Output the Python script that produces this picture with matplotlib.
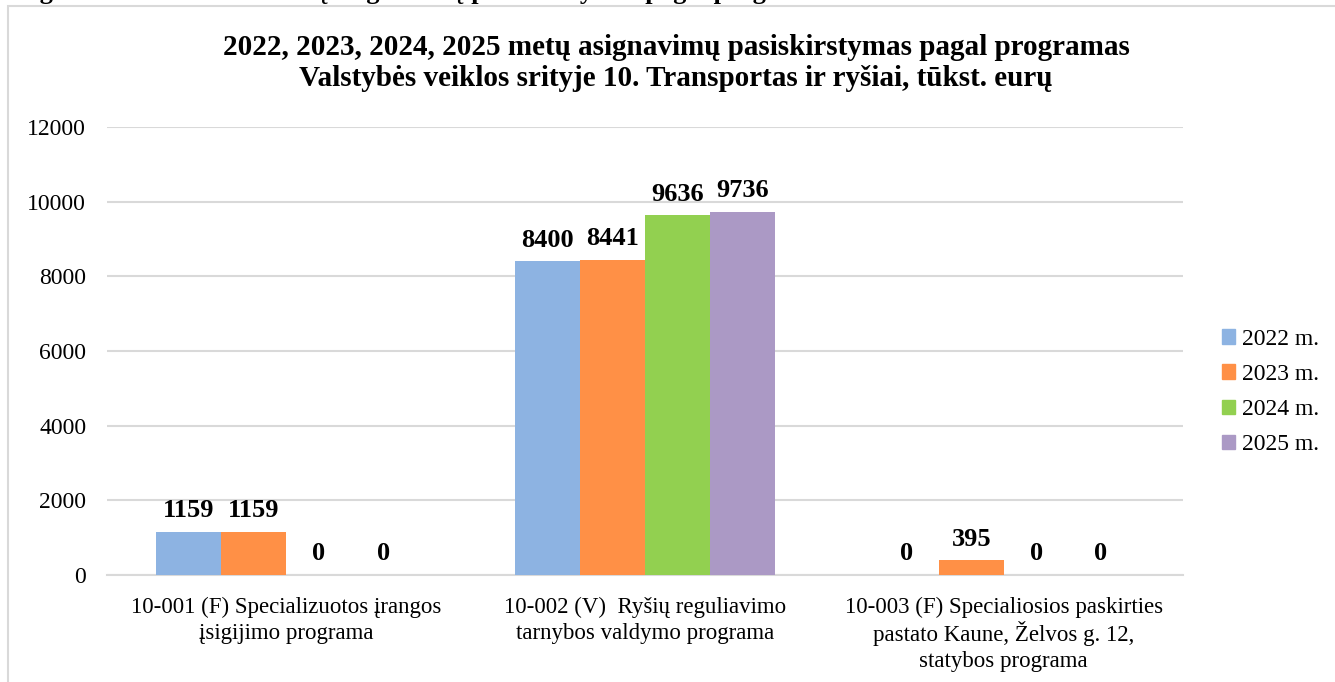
import numpy as np
import matplotlib
matplotlib.use('Agg')
import matplotlib.pyplot as plt
from matplotlib.patches import Rectangle, Patch

# Times-like font for the whole chart
plt.rcParams['font.family'] = ['Liberation Serif', 'DejaVu Serif']

# Data
programs = ['10-001 (F) Specializuotos įrangos\nįsigijimo programa',
            '10-002 (V)  Ryšių reguliavimo\ntarnybos valdymo programa',
            '10-003 (F) Specialiosios paskirties\npastato Kaune, Želvos g. 12,\nstatybos programa']
years = ['2022 m.', '2023 m.', '2024 m.', '2025 m.']
v2022 = [1159, 8400, 0]
v2023 = [1159, 8441, 395]
v2024 = [0, 9636, 0]
v2025 = [0, 9736, 0]
colors = ['#8DB3E2', '#FF9046', '#92D050', '#AB99C5']

title = ('2022, 2023, 2024, 2025 metų asignavimų pasiskirstymas pagal programas\n'
         'Valstybės veiklos srityje 10. Transportas ir ryšiai, tūkst. eurų')

W, H = 1335, 682
fig = plt.figure(figsize=(W / 100, H / 100), dpi=100)

# caption above the chart frame, cut off in the source image
fig.text(0.0, 1 + 1 / H, 'Diagrama 5. 2022–2025 metų asignavimų pasiskirstymas pagal programas',
         fontsize=19, fontweight='bold', va='baseline', ha='left')

# chart frame
fig.patches.append(Rectangle((8 / W, -0.1), 1.2, 1 - 6 / H + 0.1, transform=fig.transFigure,
                             fill=False, edgecolor='#D9D9D9', linewidth=1.5))

ax = fig.add_axes([107 / W, 1 - 575 / H, (1183 - 107) / W, (575 - 127) / H])

x = np.arange(len(programs))
w = 0.181
series = [v2022, v2023, v2024, v2025]
for i, (vals, col, lab) in enumerate(zip(series, colors, years)):
    bars = ax.bar(x + (i - 1.5) * w, vals, w, color=col, label=lab, zorder=3)
    for b, v in zip(bars, vals):
        ax.annotate(str(v), (b.get_x() + b.get_width() / 2, v), xytext=(0, 7),
                    textcoords='offset points', ha='center', va='bottom',
                    fontsize=19, fontweight='bold')

ax.set_xlim(-0.5, 2.5)
ax.set_ylim(0, 12000)
ax.set_yticks(range(0, 12001, 2000))
ax.set_xticks(x)
ax.set_xticklabels([])
# category labels, one line at a time so the line gaps stay even
for xi, lab in zip(x, programs):
    for j, line in enumerate(lab.split('\n')):
        ax.annotate(line, (xi, 0), xycoords=('data', 'axes fraction'),
                    xytext=(0, -32 - 27 * j), textcoords='offset pixels',
                    ha='center', va='center', fontsize=16.5, annotation_clip=False)
ax.tick_params(axis='y', length=0, pad=15, labelsize=17)
ax.tick_params(axis='x', length=0)
ax.grid(axis='y', color='#D9D9D9', linewidth=1.5, zorder=0)
for s in ['top', 'right', 'left']:
    ax.spines[s].set_visible(False)
ax.spines['bottom'].set_color('#D9D9D9')
ax.spines['bottom'].set_linewidth(1.5)

fig.text(676 / W, 1 - 63 / H, title, ha='center', va='center', fontsize=21,
         fontweight='bold', linespacing=1.15)

handles = [Patch(color=c) for c in colors]
fig.legend(handles, years, loc='center left', bbox_to_anchor=(1201 / W, 1 - 392 / H),
           frameon=False, fontsize=17, handlelength=0.55, handleheight=0.55,
           handletextpad=0.3, labelspacing=0.6)

fig.savefig('out.png', dpi=100)
